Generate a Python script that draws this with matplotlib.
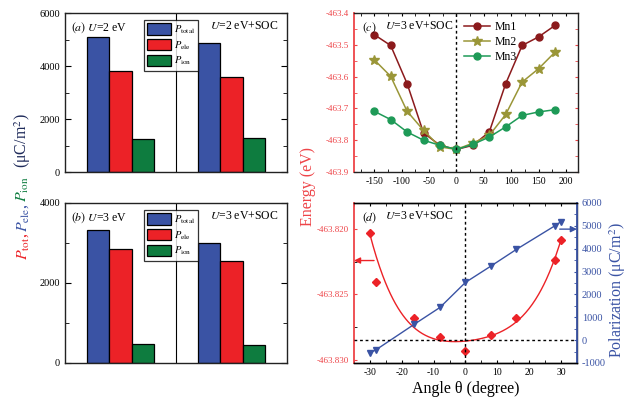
import numpy as np
import matplotlib
matplotlib.use("Agg")
import matplotlib.pyplot as plt
from matplotlib.ticker import MultipleLocator, FormatStrFormatter
from matplotlib.patches import Patch

plt.rcParams['font.family'] = ['Liberation Serif', 'DejaVu Serif']
plt.rcParams['mathtext.fontset'] = 'stix'
plt.rcParams['axes.unicode_minus'] = False

# ---------------- data ----------------
groups = ['U=2 eV', 'U=2 eV+SOC']
p_total_a = [5080, 4860]
p_ele_a = [3830, 3575]
p_ion_a = [1260, 1300]
p_total_b = [3330, 3010]
p_ele_b = [2860, 2550]
p_ion_b = [480, 460]

angle_c = [-150, -120, -90, -60, -30, 0, 30, 60, 90, 120, 150, 180]
mn1 = [-463.468, -463.502, -463.622, -463.777, -463.816, -463.829,
       -463.816, -463.774, -463.622, -463.502, -463.475, -463.439]
mn2 = [-463.547, -463.599, -463.709, -463.769, -463.821, -463.829,
       -463.809, -463.785, -463.719, -463.617, -463.575, -463.523]
mn3 = [-463.709, -463.735, -463.774, -463.800, -463.816, -463.829,
       -463.813, -463.790, -463.758, -463.722, -463.711, -463.704]

angle_d = [-30, -28, -16, -8, 0, 8, 16, 28, 30]
energy_d = [-463.82031, -463.82403, -463.82685, -463.82826, -463.82936,
            -463.82808, -463.82685, -463.82236, -463.82082]
polar_d = [-560, -415, 700, 1430, 2525, 3240, 3970, 4995, 5185]

# ---------------- style ----------------
C_BLUE = '#3A53A4'
C_RED = '#EC2227'
C_GREEN = '#0E7C3F'
C_LRED = '#EE4448'
C_MN1 = '#8B1A1C'
C_MN2 = '#9A9638'
C_MN3 = '#1E9A57'

fig = plt.figure(figsize=(6.37, 4.01), dpi=100)

ax_a = fig.add_axes([0.102, 0.571, 0.3485, 0.3965])
ax_b = fig.add_axes([0.102, 0.0948, 0.3485, 0.399])
ax_c = fig.add_axes([0.5557, 0.571, 0.3517, 0.3965])
ax_d = fig.add_axes([0.5557, 0.0948, 0.350, 0.399])


def bar_panel(ax, tot, ele, ion, ymax, tag, u):
    x = np.array([0.5, 1.5])
    w = 0.2
    ax.bar(x - w, tot, w, color=C_BLUE, edgecolor='black', lw=0.9)
    ax.bar(x, ele, w, color=C_RED, edgecolor='black', lw=0.9)
    ax.bar(x + w, ion, w, color=C_GREEN, edgecolor='black', lw=0.9)
    ax.axvline(1.0, color='black', lw=0.8)
    ax.set_xlim(0, 2)
    ax.set_ylim(0, ymax)
    ax.set_xticks([])
    ax.yaxis.set_major_locator(MultipleLocator(2000))
    ax.yaxis.set_minor_locator(MultipleLocator(1000))
    ax.tick_params(axis='y', which='both', direction='in', right=True, labelsize=7.5, length=3)
    ax.tick_params(axis='y', which='major', length=4)
    for s in ax.spines.values():
        s.set_linewidth(1.0)
        s.set_color('#222222')
    ax.text(0.025, 0.955, r'$\it{(%s)}$ $\it{U}$=%d eV' % (tag, u), transform=ax.transAxes,
            fontsize=8.5, va='top', ha='left')
    ax.text(0.655, 0.955, r'$\it{U}$=%d eV+SOC' % u, transform=ax.transAxes,
            fontsize=8.5, va='top', ha='left')
    handles = [Patch(facecolor=C_BLUE, edgecolor='black', lw=0.9),
               Patch(facecolor=C_RED, edgecolor='black', lw=0.9),
               Patch(facecolor=C_GREEN, edgecolor='black', lw=0.9)]
    labels = [r'$P_{\rm total}$', r'$P_{\rm ele}$', r'$P_{\rm ion}$']
    leg = ax.legend(handles, labels, loc='upper left', bbox_to_anchor=(0.356, 0.956),
                    fontsize=7.5, frameon=True, fancybox=False, edgecolor='black',
                    handlelength=2.3, handleheight=1.3, handletextpad=0.25,
                    borderpad=0.3, labelspacing=0.3, borderaxespad=0)
    leg.get_frame().set_linewidth(0.9)


bar_panel(ax_a, p_total_a, p_ele_a, p_ion_a, 6000, 'a', 2)
bar_panel(ax_b, p_total_b, p_ele_b, p_ion_b, 4000, 'b', 3)

# ---------------- panel c ----------------
ax_c.plot(angle_c, mn1, '-o', color=C_MN1, ms=5, lw=1.1, label='Mn1')
ax_c.plot(angle_c, mn2, '-*', color=C_MN2, ms=7, lw=1.1, label='Mn2')
ax_c.plot(angle_c, mn3, '-o', color=C_MN3, ms=5, lw=1.1, label='Mn3')
ax_c.axvline(0, color='black', ls=(0, (2, 2)), lw=1.0)
ax_c.set_xlim(-187, 222)
ax_c.set_ylim(-463.9, -463.4)
ax_c.xaxis.set_major_locator(MultipleLocator(50))
ax_c.xaxis.set_minor_locator(MultipleLocator(25))
ax_c.yaxis.set_major_locator(MultipleLocator(0.1))
ax_c.yaxis.set_minor_locator(MultipleLocator(0.05))
ax_c.yaxis.set_major_formatter(FormatStrFormatter('%.1f'))
ax_c.tick_params(which='both', direction='in', top=True, right=True, length=2.5)
ax_c.tick_params(axis='x', labelsize=7)
ax_c.tick_params(axis='y', labelsize=6.5, labelcolor=C_LRED)
ax_c.tick_params(axis='y', which='both', left=True, color=C_LRED)
for s in ax_c.spines.values():
    s.set_linewidth(1.0)
    s.set_color('#222222')
ax_c.spines['left'].set_color(C_LRED)
ax_c.spines['left'].set_linewidth(1.3)
ax_c.text(0.035, 0.955, r'$\it{(c)}$', transform=ax_c.transAxes, fontsize=8.5, va='top')
ax_c.text(0.14, 0.955, r'$\it{U}$=3 eV+SOC', transform=ax_c.transAxes, fontsize=8.5, va='top')
ax_c.legend(loc='upper left', bbox_to_anchor=(0.47, 0.98), frameon=False, fontsize=8.5,
            handlelength=2.2, handletextpad=0.4, labelspacing=0.25, borderaxespad=0)

# ---------------- panel d ----------------
xf = np.linspace(min(angle_d), max(angle_d), 300)
fit_w = [4, 1, 1, 1, 1, 1, 1, 1, 4]
coef = np.polyfit(angle_d, energy_d, 4, w=fit_w)
ax_d.plot(xf, np.polyval(coef, xf), '-', color=C_RED, lw=1.0)
ax_d.plot(angle_d, energy_d, 'D', color=C_RED, ms=4.5, ls='none')
ax_d.set_xlim(-35, 35)
ax_d.set_ylim(-463.83026, -463.818)
ax_d.xaxis.set_major_locator(MultipleLocator(10))
ax_d.xaxis.set_minor_locator(MultipleLocator(5))
ax_d.yaxis.set_major_locator(MultipleLocator(0.005))
ax_d.yaxis.set_minor_locator(MultipleLocator(0.0025))
ax_d.yaxis.set_major_formatter(FormatStrFormatter('%.3f'))
ax_d.tick_params(which='both', direction='in', top=True, length=2.5)
ax_d.tick_params(axis='x', labelsize=7)
ax_d.tick_params(axis='y', labelsize=6.5, labelcolor=C_LRED, color=C_LRED)
ax_d.axvline(0, color='black', ls=(0, (2, 2)), lw=1.0)
for s in ax_d.spines.values():
    s.set_linewidth(1.0)
    s.set_color('#222222')
ax_d.spines['left'].set_color(C_LRED)
ax_d.spines['left'].set_linewidth(1.3)
ax_d.annotate('', xy=(-35, -463.82241), xytext=(-28.7, -463.82241),
              arrowprops=dict(arrowstyle='-|>', color=C_RED, lw=1.0, mutation_scale=9,
                              shrinkA=0, shrinkB=0))

ax_p = ax_d.twinx()
ax_p.plot(angle_d, polar_d, '-v', color=C_BLUE, ms=5, lw=1.0)
ax_p.axhline(0, color='black', ls=(0, (2, 2)), lw=1.0)
ax_p.set_ylim(-1000, 6000)
ax_p.yaxis.set_major_locator(MultipleLocator(1000))
ax_p.yaxis.set_minor_locator(MultipleLocator(500))
ax_p.tick_params(axis='y', which='both', direction='in', labelsize=7.5,
                 labelcolor=C_BLUE, color=C_BLUE, length=2.5)
ax_p.spines['right'].set_color(C_BLUE)
ax_p.spines['right'].set_linewidth(1.3)
ax_p.spines['left'].set_visible(False)
ax_p.spines['top'].set_linewidth(1.0)
ax_p.spines['bottom'].set_linewidth(1.0)
ax_p.annotate('', xy=(35, 4856), xytext=(29.6, 4856),
              arrowprops=dict(arrowstyle='-|>', color=C_BLUE, lw=1.0, mutation_scale=9,
                              shrinkA=0, shrinkB=0))
ax_p.text(0.035, 0.955, r'$\it{(d)}$', transform=ax_d.transAxes, fontsize=8.5, va='top')
ax_p.text(0.14, 0.955, r'$\it{U}$=3 eV+SOC', transform=ax_d.transAxes, fontsize=8.5, va='top')

ax_d.set_xlabel('Angle θ (degree)', fontsize=11.5, labelpad=3)

# ---------------- labels ----------------
fig.text(308 / 637, 1 - 187 / 401, 'Energy (eV)', rotation=90, color=C_LRED,
         fontsize=11.5, ha='center', va='center')
fig.text(618 / 637, 1 - 290 / 401, 'Polarization (μC/m$^2$)', rotation=90, color=C_BLUE,
         fontsize=11.5, ha='center', va='center')

pieces = [(r'$P_{\rm tot}$, ', C_RED), (r'$P_{\rm ele}$, ', C_BLUE),
          (r'$P_{\rm ion}$', C_GREEN), ('  (μC/m$^2$)', '#1E2A5A')]
fig.canvas.draw()
r = fig.canvas.get_renderer()
texts = []
total = 0
for s, c in pieces:
    t = fig.text(0, 0, s, color=c, rotation=90, rotation_mode='anchor',
                 ha='left', va='baseline', fontsize=11.5)
    h = t.get_window_extent(r).height / fig.bbox.height
    texts.append((t, h))
    total += h
y0 = (1 - 187 / 401) - total / 2
xb = 27 / 637
for t, h in texts:
    t.set_position((xb, y0))
    y0 += h

fig.savefig('out.png', dpi=100)
